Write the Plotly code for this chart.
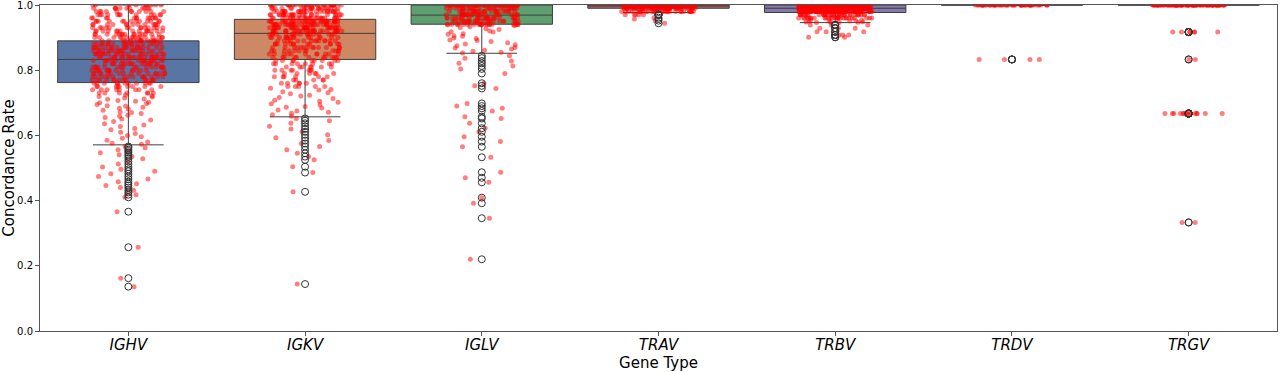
import numpy as np
import plotly.graph_objects as go

gene_types = ["IGHV", "IGKV", "IGLV", "TRAV", "TRBV", "TRDV", "TRGV"]

# box statistics
box_q1 = [0.762, 0.833, 0.941, 0.990, 0.977, 1.0, 1.0]
box_median = [0.833, 0.913, 0.969, 1.0, 0.990, 1.0, 1.0]
box_q3 = [0.890, 0.956, 1.0, 1.0, 1.0, 1.0, 1.0]
box_lower = [0.571, 0.657, 0.852, 0.977, 0.946, 1.0, 1.0]
box_upper = [1.0, 1.0, 1.0, 1.0, 1.0, 1.0, 1.0]

# ---- per-gene concordance rates ----
# dense body (binned rate -> count), sparse tail inside the whiskers, outliers
ighv_rates = [1.00, 0.99, 0.98, 0.97, 0.96, 0.95, 0.94, 0.93, 0.92, 0.91, 0.90,
              0.89, 0.88, 0.87, 0.86, 0.85, 0.84, 0.83, 0.82, 0.81, 0.80, 0.79,
              0.78, 0.77, 0.76, 0.75, 0.74, 0.73]
ighv_counts = [9, 11, 11, 12, 12, 13, 13, 14, 15, 15, 16,
               17, 18, 19, 19, 19, 20, 17, 17, 17, 16, 16,
               15, 14, 11, 9, 8, 7]
ighv_tail = [0.724, 0.722, 0.719, 0.718, 0.715, 0.712, 0.711, 0.707, 0.705, 0.702,
             0.700, 0.698, 0.695, 0.691, 0.690, 0.686, 0.683, 0.681, 0.677, 0.672,
             0.670, 0.667, 0.662, 0.659, 0.655, 0.650, 0.647, 0.643, 0.636, 0.632,
             0.627, 0.621, 0.617, 0.610, 0.606, 0.600, 0.596, 0.591, 0.585, 0.580,
             0.576, 0.573]
ighv_outliers = [0.566, 0.562, 0.556, 0.552, 0.547, 0.541, 0.535, 0.528, 0.520,
                 0.512, 0.503, 0.496, 0.490, 0.482, 0.474, 0.466, 0.458, 0.452,
                 0.446, 0.440, 0.432, 0.425, 0.418, 0.410, 0.366, 0.257, 0.162, 0.136]

igkv_rates = [1.00, 0.99, 0.98, 0.97, 0.96, 0.95, 0.94, 0.93, 0.92, 0.91, 0.90,
              0.89, 0.88, 0.87, 0.86, 0.85, 0.84, 0.83, 0.82, 0.81, 0.80, 0.79,
              0.78, 0.77, 0.76, 0.75]
igkv_counts = [26, 22, 24, 24, 24, 28, 28, 28, 28, 17, 15,
               14, 13, 13, 12, 11, 11, 9, 8, 7, 7, 6,
               6, 5, 5, 5]
igkv_tail = [0.745, 0.741, 0.739, 0.734, 0.731, 0.728, 0.723, 0.721, 0.716, 0.713,
             0.708, 0.705, 0.702, 0.697, 0.694, 0.689, 0.686, 0.684, 0.678, 0.675,
             0.671, 0.668, 0.663, 0.659]
igkv_outliers = [0.652, 0.645, 0.637, 0.628, 0.620, 0.611, 0.602, 0.593, 0.584,
                 0.575, 0.566, 0.556, 0.545, 0.535, 0.525, 0.504, 0.486, 0.427, 0.144]

iglv_rates = [1.00, 0.99, 0.98, 0.97, 0.96, 0.95, 0.94]
iglv_counts = [75, 25, 25, 25, 25, 25, 22]
iglv_tail = [0.936, 0.933, 0.931, 0.927, 0.925, 0.920, 0.918, 0.917, 0.912, 0.910,
             0.906, 0.904, 0.899, 0.897, 0.893, 0.891, 0.888, 0.884, 0.880, 0.878,
             0.875, 0.870, 0.868, 0.865, 0.861, 0.858, 0.855, 0.853]
iglv_outliers = [0.844, 0.837, 0.828, 0.821, 0.813, 0.804, 0.790, 0.760, 0.752,
                 0.744, 0.698, 0.690, 0.683, 0.675, 0.657, 0.652, 0.637, 0.622,
                 0.611, 0.596, 0.581, 0.565, 0.533, 0.487, 0.470, 0.456, 0.409,
                 0.392, 0.346, 0.220]

trav_rates = [1.00, 0.99, 0.98]
trav_counts = [150, 60, 30]
trav_tail = []
trav_outliers = [0.970, 0.970, 0.970, 0.970, 0.970, 0.961, 0.957, 0.952, 0.944]

trbv_rates = [1.00, 0.99, 0.98, 0.97, 0.96]
trbv_counts = [110, 100, 90, 35, 28]
trbv_tail = [0.955, 0.954, 0.952, 0.951, 0.950, 0.950, 0.949, 0.948, 0.948, 0.947,
             0.946, 0.946]
trbv_outliers = [0.939, 0.939, 0.939, 0.929, 0.929, 0.929, 0.918, 0.918, 0.918,
                 0.908, 0.908, 0.908, 0.901, 0.901]

trdv_rates = [1.00]
trdv_counts = [60]
trdv_tail = []
trdv_outliers = [0.833, 0.833, 0.833, 0.833]

trgv_rates = [1.00]
trgv_counts = [100]
trgv_tail = []
trgv_outliers = [0.917, 0.917, 0.917, 0.917, 0.917, 0.917, 0.917, 0.833, 0.833,
                 0.667, 0.667, 0.667, 0.667, 0.667, 0.667, 0.667, 0.667, 0.667,
                 0.667, 0.667, 0.667, 0.667, 0.667, 0.667, 0.667, 0.333, 0.333]

box_colors = ["#5875a3", "#cc8963", "#5f9e6e", "#b55d60", "#857aab", "#8d7866", "#d095bf"]

rates = [ighv_rates, igkv_rates, iglv_rates, trav_rates, trbv_rates, trdv_rates, trgv_rates]
counts = [ighv_counts, igkv_counts, iglv_counts, trav_counts, trbv_counts, trdv_counts, trgv_counts]
tails = [ighv_tail, igkv_tail, iglv_tail, trav_tail, trbv_tail, trdv_tail, trgv_tail]
outliers = [ighv_outliers, igkv_outliers, iglv_outliers, trav_outliers, trbv_outliers,
            trdv_outliers, trgv_outliers]

fig = go.Figure()

# boxes from the read statistics
for i, g in enumerate(gene_types):
    fig.add_trace(go.Box(
        x=[g], q1=[box_q1[i]], median=[box_median[i]], q3=[box_q3[i]],
        lowerfence=[box_lower[i]], upperfence=[box_upper[i]],
        width=0.8, whiskerwidth=0.5,
        fillcolor=box_colors[i], line=dict(color="#3f3f3f", width=1),
        boxpoints=False, showlegend=False, hoverinfo="skip",
    ))

point_marker = dict(color="rgba(255,0,0,0.5)", size=5, line=dict(width=0))


def strip_trace(groups):
    xs, ys = [], []
    for g, vals in zip(gene_types, groups):
        xs += [g] * len(vals)
        ys += list(vals)
    return go.Box(
        x=xs, y=ys, boxpoints="all", jitter=0.52, pointpos=0, width=0.8,
        fillcolor="rgba(0,0,0,0)", line=dict(color="rgba(0,0,0,0)", width=0),
        marker=point_marker, showlegend=False, hoverinfo="y",
    )


# jittered strip of all samples: dense body, sparse tail, outliers
body = [list(np.repeat(r, c)) for r, c in zip(rates, counts)]
fig.add_trace(strip_trace(body))
fig.add_trace(strip_trace(tails))
fig.add_trace(strip_trace(outliers))

# outlier circles (fliers)
ox, oy = [], []
for i, g in enumerate(gene_types):
    ox += [g] * len(outliers[i])
    oy += list(outliers[i])
fig.add_trace(go.Scatter(
    x=ox, y=oy, mode="markers",
    marker=dict(symbol="circle-open", size=7, color="#333333", line=dict(width=1)),
    showlegend=False, hoverinfo="y",
))

yt = [0.0, 0.2, 0.4, 0.6, 0.8, 1.0]
fig.update_layout(
    width=1280, height=372,
    margin=dict(l=40, r=3, t=5, b=41),
    plot_bgcolor="white", paper_bgcolor="white",
    boxmode="overlay", showlegend=False,
    font=dict(family="DejaVu Sans", color="black"),
    xaxis=dict(
        type="category", categoryorder="array", categoryarray=gene_types,
        range=[-0.5, 6.5], showgrid=False, zeroline=False,
        showline=True, mirror=True, linecolor="#555555", linewidth=1,
        ticks="outside", ticklen=4, tickcolor="#555555",
        tickfont=dict(size=15, style="italic", family="DejaVu Sans"),
        ticklabelstandoff=-4,
        title=dict(text="Gene Type", font=dict(size=15), standoff=2),
        automargin=False,
    ),
    yaxis=dict(
        range=[0, 1], tickvals=yt, ticktext=["%.1f" % v for v in yt],
        showgrid=False, zeroline=False,
        showline=True, mirror=True, linecolor="#555555", linewidth=1,
        ticks="outside", ticklen=4, tickcolor="#555555",
        tickfont=dict(size=10), ticklabeloverflow="allow",
        title=dict(text="Concordance Rate", font=dict(size=15), standoff=6),
        automargin=False,
    ),
)

fig.write_html("out.html", config={"displayModeBar": False},
               post_script="document.body.style.margin='0';")
